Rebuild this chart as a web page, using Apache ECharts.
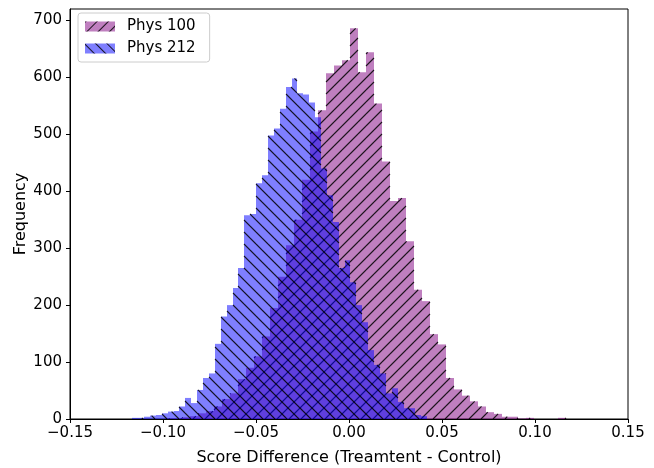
<!DOCTYPE html>
<html>
<head>
<meta charset="utf-8">
<script src="https://cdn.jsdelivr.net/npm/echarts@6/dist/echarts.min.js"></script>
<style>
  html, body { margin: 0; padding: 0; background: #fff; }
  #chart { width: 654px; height: 468px; }
</style>
</head>
<body>
<div id="chart"></div>
<script>
// Histogram of simulated score differences for two courses.
// Each course: first bin's left edge, bin width and counts per bin.
const phys100Start = -0.0982;
const phys100Width = 0.0043;
const phys100Counts = [
  1, 1, 3, 5, 10, 14, 22, 35, 45, 70,
  90, 110, 145, 195, 250, 305, 350, 420, 505, 542,
  607, 621, 630, 686, 609, 644, 554, 452, 383, 388,
  312, 227, 207, 149, 131, 72, 52, 41, 31, 22,
  12, 9, 4, 4, 1, 2, 0, 0, 0, 2
];

const phys212Start = -0.1165;
const phys212Width = 0.00317;
const phys212Counts = [
  2, 2, 4, 6, 7, 10, 13, 14, 22, 37,
  28, 51, 72, 80, 132, 180, 200, 230, 265, 358,
  360, 414, 428, 498, 510, 545, 583, 598, 572, 570,
  556, 530, 440, 393, 346, 265, 279, 240, 200, 170,
  121, 95, 80, 45, 54, 30, 19, 19, 7, 5
];

const seriesNames = ['Phys 100', 'Phys 212'];
const xTicks = [-0.15, -0.10, -0.05, 0.00, 0.05, 0.10, 0.15];
const yTicks = [0, 100, 200, 300, 400, 500, 600, 700];

const FONT = 'DejaVu Sans';
const FS = 15;                  // tick labels and legend
const FS_NAME = 16;             // axis titles
const HATCH_STEP = 12;          // horizontal distance between hatch lines (px)
const HATCH_COLOR = 'rgba(0,0,0,0.85)';

// Turn counts into [left edge, right edge, count] rows
function toBins(start, width, counts) {
  return counts.map((c, i) => [start + i * width, start + (i + 1) * width, c]);
}

// Diagonal hatch segments clipped to a rectangle; lines lie on a
// canvas-wide lattice so they run on continuously from bar to bar.
// dir = +1 draws '/', dir = -1 draws '\'.
function hatchLines(x0, y0, x1, y1, dir) {
  const out = [];
  const s = HATCH_STEP;
  if (dir > 0) {
    // x + y = c
    for (let c = Math.ceil((x0 + y0) / s) * s; c <= x1 + y1; c += s) {
      const a = Math.max(x0, c - y1), b = Math.min(x1, c - y0);
      if (b > a) out.push({ x1: a, y1: c - a, x2: b, y2: c - b });
    }
  } else {
    // x - y = c
    for (let c = Math.ceil((x0 - y1) / s) * s; c <= x1 - y0; c += s) {
      const a = Math.max(x0, c + y0), b = Math.min(x1, c + y1);
      if (b > a) out.push({ x1: a, y1: a - c, x2: b, y2: b - c });
    }
  }
  return out.map(shape => ({
    type: 'line', shape,
    style: { stroke: HATCH_COLOR, lineWidth: 1.1 },
    silent: true
  }));
}

function makeRenderer(dir) {
  return function (params, api) {
    const top = api.coord([api.value(0), api.value(2)]);
    const base = api.coord([api.value(1), 0]);
    const x0 = Math.round(top[0]);
    const x1 = Math.round(base[0]);
    const y0 = top[1], y1 = base[1];
    if (y1 - y0 <= 0) return null;
    return {
      type: 'group',
      children: [{
        type: 'rect',
        shape: { x: x0, y: y0, width: x1 - x0, height: y1 - y0 },
        style: api.style()
      }].concat(hatchLines(x0, y0, x1, y1, dir))
    };
  };
}

// Legend swatches use the same hatch directions
const legendHatch = (rot) => ({
  symbol: 'rect', symbolSize: 1,
  dashArrayX: [1, 0], dashArrayY: [1, 7],
  rotation: rot, color: HATCH_COLOR
});

const chart = echarts.init(document.getElementById('chart'), null, { renderer: 'canvas' });

chart.setOption({
  animation: false,
  textStyle: { fontFamily: FONT },
  grid: {
    left: 70, right: 26, top: 9, bottom: 49,
    outerBoundsMode: 'none',
    containLabel: false,
    show: true, borderColor: '#000', borderWidth: 1, backgroundColor: 'transparent'
  },
  legend: {
    left: 78, top: 13,
    orient: 'vertical',
    itemWidth: 30, itemHeight: 10, itemGap: 7,
    padding: [6, 14, 6, 7],
    borderColor: '#cccccc', borderWidth: 1, borderRadius: 3,
    backgroundColor: 'rgba(255,255,255,0.8)',
    textStyle: { fontFamily: FONT, fontSize: FS, color: '#000', padding: [0, 0, 0, 7] },
    icon: 'rect',
    data: seriesNames
  },
  xAxis: {
    type: 'value', min: -0.15, max: 0.15,
    name: 'Score Difference (Treamtent - Control)',
    nameLocation: 'middle', nameGap: 31, nameMoveOverlap: false,
    nameTextStyle: { fontFamily: FONT, fontSize: FS_NAME, color: '#000' },
    axisLine: { show: true, onZero: false, lineStyle: { color: '#000', width: 1 } },
    axisTick: { show: true, length: 4, lineStyle: { color: '#000' }, customValues: xTicks },
    axisLabel: {
      fontFamily: FONT, fontSize: FS, color: '#000', margin: 7,
      customValues: xTicks,
      formatter: v => (v < 0 ? '\u2212' : '') + Math.abs(v).toFixed(2)
    },
    splitLine: { show: false }
  },
  yAxis: {
    type: 'value', min: 0, max: 720,
    name: 'Frequency',
    nameLocation: 'middle', nameGap: 41, nameMoveOverlap: false,
    nameTextStyle: { fontFamily: FONT, fontSize: FS_NAME, color: '#000' },
    axisLine: { show: true, onZero: false, lineStyle: { color: '#000', width: 1 } },
    axisTick: { show: true, length: 4, lineStyle: { color: '#000' }, customValues: yTicks },
    axisLabel: {
      fontFamily: FONT, fontSize: FS, color: '#000', margin: 8,
      customValues: yTicks
    },
    splitLine: { show: false }
  },
  series: [
    {
      name: seriesNames[0],
      type: 'custom',
      renderItem: makeRenderer(1),
      encode: { x: [0, 1], y: 2 },
      itemStyle: { color: 'rgba(128,0,128,0.5)', decal: legendHatch(-Math.PI / 4) },
      data: toBins(phys100Start, phys100Width, phys100Counts)
    },
    {
      name: seriesNames[1],
      type: 'custom',
      renderItem: makeRenderer(-1),
      encode: { x: [0, 1], y: 2 },
      itemStyle: { color: 'rgba(0,0,255,0.5)', decal: legendHatch(Math.PI / 4) },
      data: toBins(phys212Start, phys212Width, phys212Counts)
    }
  ]
});
</script>
</body>
</html>
